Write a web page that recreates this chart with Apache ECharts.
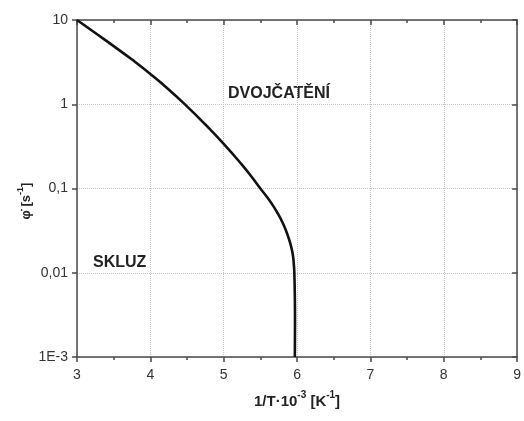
<!DOCTYPE html>
<html>
<head>
<meta charset="utf-8">
<script src="https://cdn.jsdelivr.net/npm/echarts@6/dist/echarts.min.js"></script>
<style>
  html, body { margin: 0; padding: 0; background: #fff; }
  #chart { width: 524px; height: 421px; }
</style>
</head>
<body>
<div id="chart"></div>
<script>
// curve: 1/T*10^-3 vs strain rate
const invT = [3.0, 3.25, 3.5, 3.75, 4.0, 4.25, 4.5, 4.75, 5.0, 5.25, 5.375, 5.5, 5.59, 5.67, 5.74, 5.8, 5.85, 5.89, 5.922, 5.945, 5.956, 5.963, 5.97, 5.972, 5.97];
const rate = [10, 7.0, 4.9, 3.39, 2.29, 1.5, 0.944, 0.575, 0.339, 0.191, 0.14, 0.1, 0.0794, 0.0631, 0.0501, 0.0398, 0.0316, 0.0251, 0.02, 0.0158, 0.0126, 0.01, 0.005, 0.0025, 0.001];
const yTickLabels = ["1E-3", "0,01", "0,1", "1", "10"];
const xMin = 3, xMax = 9;

const font = "Liberation Sans, Arial, sans-serif";
const axisColor = "#4a4a4a";

var myChart = echarts.init(document.getElementById("chart"));

const yLabel = (v) => {
  const i = Math.round(Math.log10(v)) + 3;
  return yTickLabels[i] || "";
};

var option = {
  animation: false,
  grid: { left: 77, right: 5, top: 20, bottom: 64 },
  xAxis: [
    {
      type: "value",
      min: xMin,
      max: xMax,
      interval: 1,
      position: "bottom",
      axisLine: { lineStyle: { color: axisColor, width: 1.5 } },
      axisTick: { length: 5, lineStyle: { color: axisColor, width: 1.5 } },
      minorTick: { show: true, splitNumber: 2, length: 3, lineStyle: { color: axisColor, width: 1.5 } },
      splitLine: { show: true, lineStyle: { color: "#c4c4c4", type: "dotted", width: 1 } },
      axisLabel: { fontSize: 14, color: "#333", fontFamily: font, margin: 11 },
      name: "{b|1/T·10}{s|-3}{b| [K}{s|-1}{b|]}",
      nameLocation: "middle",
      nameGap: 34,
      nameTextStyle: {
        rich: {
          b: { fontSize: 15, fontWeight: "bold", fontFamily: font, color: "#222", lineHeight: 18, verticalAlign: "bottom" },
          s: { fontSize: 10, fontWeight: "bold", fontFamily: font, color: "#222", lineHeight: 10, padding: [0, 0, 9, 0], verticalAlign: "bottom" },
        },
      },
    },
    {
      type: "value",
      min: xMin,
      max: xMax,
      interval: 1,
      position: "top",
      axisLine: { lineStyle: { color: axisColor, width: 1.5 } },
      axisTick: { inside: true, length: 5, lineStyle: { color: axisColor, width: 1.5 } },
      minorTick: { show: true, splitNumber: 2, length: 3, lineStyle: { color: axisColor, width: 1.5 } },
      splitLine: { show: false },
      axisLabel: { show: false },
    },
  ],
  yAxis: [
    {
      type: "log",
      logBase: 10,
      min: 0.001,
      max: 10,
      position: "left",
      axisLine: { show: true, lineStyle: { color: axisColor, width: 1.5 } },
      axisTick: { show: true, length: 5, lineStyle: { color: axisColor, width: 1.5 } },
      splitLine: { show: true, lineStyle: { color: "#c4c4c4", type: "dotted", width: 1 } },
      axisLabel: { fontSize: 14, color: "#333", fontFamily: font, margin: 9, formatter: yLabel },
    },
    {
      type: "log",
      logBase: 10,
      min: 0.001,
      max: 10,
      position: "right",
      axisLine: { show: true, lineStyle: { color: axisColor, width: 1.5 } },
      axisTick: { show: true, inside: true, length: 5, lineStyle: { color: axisColor, width: 1.5 } },
      splitLine: { show: false },
      axisLabel: { show: false },
    },
  ],
  graphic: [
    {
      type: "text",
      x: 25,
      y: 201,
      rotation: Math.PI / 2,
      style: {
        text: "{b|φ̇ [s}{s|-1}{b|]}",
        align: "center",
        verticalAlign: "middle",
        rich: {
          b: { fontSize: 13, fontWeight: "bold", fontFamily: font, fill: "#222", lineHeight: 16, verticalAlign: "bottom" },
          s: { fontSize: 9, fontWeight: "bold", fontFamily: font, fill: "#222", lineHeight: 9, padding: [0, 0, 8, 0], verticalAlign: "bottom" },
        },
      },
    },
    {
      type: "text",
      x: 228,
      y: 94,
      style: { text: "DVOJČATĚNÍ", fontSize: 16, fontWeight: "bold", fontFamily: font, fill: "#222", verticalAlign: "middle" },
    },
    {
      type: "text",
      x: 93,
      y: 263,
      style: { text: "SKLUZ", fontSize: 16, fontWeight: "bold", fontFamily: font, fill: "#222", verticalAlign: "middle" },
    },
  ],
  series: [
    {
      type: "line",
      xAxisIndex: 0,
      yAxisIndex: 0,
      data: invT.map((x, i) => [x, rate[i]]),
      smooth: 0.5,
      showSymbol: false,
      lineStyle: { color: "#111", width: 2.6 },
    },
  ],
};
myChart.setOption(option);
</script>
</body>
</html>
